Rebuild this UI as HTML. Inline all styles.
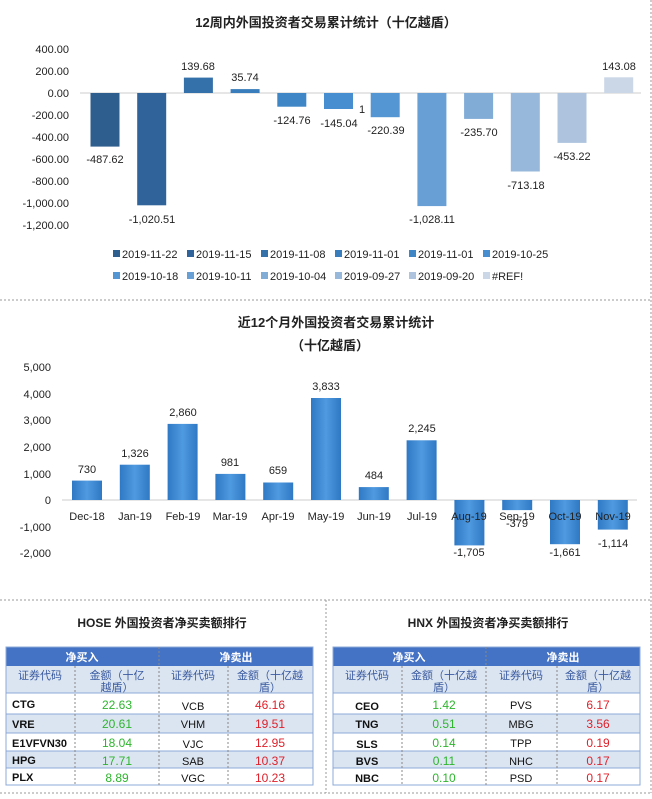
<!DOCTYPE html>
<html><head><meta charset="utf-8"><style>
body{margin:0;background:#fff;width:652px;height:794px;overflow:hidden;font-family:"Liberation Sans","Noto Sans CJK SC",sans-serif}
svg text{font-family:"Liberation Sans","Noto Sans CJK SC",sans-serif}
</style></head><body>
<svg width="652" height="794" viewBox="0 0 652 794" xmlns="http://www.w3.org/2000/svg">
<defs>
<linearGradient id="g2" x1="0" x2="1" y1="0" y2="0"><stop offset="0" stop-color="#2f78c4"/><stop offset="0.5" stop-color="#4f9ae0"/><stop offset="1" stop-color="#2f78c4"/></linearGradient>
</defs>
<!-- separators -->
<line x1="0" y1="300" x2="652" y2="300" stroke="#999" stroke-dasharray="2,2"/>
<line x1="651" y1="0" x2="651" y2="600" stroke="#999" stroke-dasharray="2,2"/>
<line x1="0" y1="600" x2="652" y2="600" stroke="#999" stroke-dasharray="2,2"/>
<line x1="0" y1="793" x2="652" y2="793" stroke="#999" stroke-dasharray="2,2"/>
<line x1="326" y1="600" x2="326" y2="793" stroke="#999" stroke-dasharray="2,2"/>
<line x1="651" y1="600" x2="651" y2="793" stroke="#999" stroke-dasharray="2,2"/>

<!-- Chart 1 -->
<text x="326" y="27" text-anchor="middle" font-size="13" font-weight="bold" fill="#222">12周内外国投资者交易累计统计（十亿越盾）</text>
<g font-size="11" fill="#222" text-anchor="end">
<text x="69" y="53">400.00</text><text x="69" y="75">200.00</text><text x="69" y="97">0.00</text>
<text x="69" y="119">-200.00</text><text x="69" y="141">-400.00</text><text x="69" y="163">-600.00</text>
<text x="69" y="185">-800.00</text><text x="69" y="207">-1,000.00</text><text x="69" y="229">-1,200.00</text>
</g>
<line x1="80" y1="93" x2="641" y2="93" stroke="#ccc"/>
<g>
<rect x="90.5" y="93" width="29" height="53.6" fill="#2e5e8e"/>
<rect x="137.2" y="93" width="29" height="112.3" fill="#2f6399"/>
<rect x="183.9" y="77.6" width="29" height="15.4" fill="#3470aa"/>
<rect x="230.6" y="89.1" width="29" height="3.9" fill="#3a7dbc"/>
<rect x="277.3" y="93" width="29" height="13.7" fill="#3f86c6"/>
<rect x="324" y="93" width="29" height="16" fill="#468ecf"/>
<rect x="370.7" y="93" width="29" height="24.2" fill="#5496d3"/>
<rect x="417.4" y="93" width="29" height="113.1" fill="#68a0d6"/>
<rect x="464.1" y="93" width="29" height="25.9" fill="#80acd6"/>
<rect x="510.8" y="93" width="29" height="78.5" fill="#97b8da"/>
<rect x="557.5" y="93" width="29" height="49.9" fill="#aec4de"/>
<rect x="604.2" y="77.3" width="29" height="15.7" fill="#cbd7e7"/>
</g>
<g font-size="11" fill="#222" text-anchor="middle">
<text x="105" y="163">-487.62</text><text x="152" y="223">-1,020.51</text>
<text x="198" y="70">139.68</text><text x="245" y="81">35.74</text>
<text x="292" y="124">-124.76</text><text x="339" y="127">-145.04</text>
<text x="362" y="113">1</text>
<text x="386" y="134">-220.39</text><text x="432" y="223">-1,028.11</text>
<text x="479" y="136">-235.70</text><text x="526" y="189">-713.18</text>
<text x="572" y="160">-453.22</text><text x="619" y="70">143.08</text>
</g>
<g font-size="11" fill="#222">
<rect x="113" y="250" width="7" height="7" fill="#2e5e8e"/><text x="122" y="258">2019-11-22</text>
<rect x="187" y="250" width="7" height="7" fill="#2f6399"/><text x="196" y="258">2019-11-15</text>
<rect x="261" y="250" width="7" height="7" fill="#3470aa"/><text x="270" y="258">2019-11-08</text>
<rect x="335" y="250" width="7" height="7" fill="#3a7dbc"/><text x="344" y="258">2019-11-01</text>
<rect x="409" y="250" width="7" height="7" fill="#3f86c6"/><text x="418" y="258">2019-11-01</text>
<rect x="483" y="250" width="7" height="7" fill="#468ecf"/><text x="492" y="258">2019-10-25</text>
<rect x="113" y="272" width="7" height="7" fill="#5496d3"/><text x="122" y="280">2019-10-18</text>
<rect x="187" y="272" width="7" height="7" fill="#68a0d6"/><text x="196" y="280">2019-10-11</text>
<rect x="261" y="272" width="7" height="7" fill="#80acd6"/><text x="270" y="280">2019-10-04</text>
<rect x="335" y="272" width="7" height="7" fill="#97b8da"/><text x="344" y="280">2019-09-27</text>
<rect x="409" y="272" width="7" height="7" fill="#aec4de"/><text x="418" y="280">2019-09-20</text>
<rect x="483" y="272" width="7" height="7" fill="#cbd7e7"/><text x="492" y="280">#REF!</text>
</g>

<!-- Chart 2 -->
<text x="336" y="327" text-anchor="middle" font-size="13" font-weight="bold" fill="#222">近12个月外国投资者交易累计统计</text>
<text x="330" y="350" text-anchor="middle" font-size="13" font-weight="bold" fill="#222">（十亿越盾）</text>
<g font-size="11" fill="#222" text-anchor="end">
<text x="51" y="371">5,000</text><text x="51" y="398">4,000</text><text x="51" y="424">3,000</text>
<text x="51" y="451">2,000</text><text x="51" y="478">1,000</text><text x="51" y="504">0</text>
<text x="51" y="531">-1,000</text><text x="51" y="557">-2,000</text>
</g>
<line x1="62" y1="500" x2="637" y2="500" stroke="#ccc"/>
<g fill="url(#g2)">
<rect x="72" y="480.6" width="30" height="19.4"/>
<rect x="119.8" y="464.7" width="30" height="35.3"/>
<rect x="167.6" y="423.9" width="30" height="76.1"/>
<rect x="215.4" y="473.9" width="30" height="26.1"/>
<rect x="263.2" y="482.5" width="30" height="17.5"/>
<rect x="311" y="398" width="30" height="102"/>
<rect x="358.8" y="487.1" width="30" height="12.9"/>
<rect x="406.6" y="440.3" width="30" height="59.7"/>
<rect x="454.4" y="500" width="30" height="45.4"/>
<rect x="502.2" y="500" width="30" height="10.1"/>
<rect x="550" y="500" width="30" height="44.2"/>
<rect x="597.8" y="500" width="30" height="29.6"/>
</g>
<g font-size="11" fill="#222" text-anchor="middle">
<text x="87" y="473">730</text><text x="135" y="457">1,326</text><text x="183" y="416">2,860</text>
<text x="230" y="466">981</text><text x="278" y="474">659</text><text x="326" y="390">3,833</text>
<text x="374" y="479">484</text><text x="422" y="432">2,245</text>
<text x="469" y="556">-1,705</text><text x="517" y="527">-379</text><text x="565" y="556">-1,661</text><text x="613" y="547">-1,114</text>
<text x="87" y="520">Dec-18</text><text x="135" y="520">Jan-19</text><text x="183" y="520">Feb-19</text>
<text x="230" y="520">Mar-19</text><text x="278" y="520">Apr-19</text><text x="326" y="520">May-19</text>
<text x="374" y="520">Jun-19</text><text x="422" y="520">Jul-19</text><text x="469" y="520">Aug-19</text>
<text x="517" y="520">Sep-19</text><text x="565" y="520">Oct-19</text><text x="613" y="520">Nov-19</text>
</g>

<!-- Tables -->
<text x="162" y="627" text-anchor="middle" font-size="12" font-weight="bold" fill="#222">HOSE 外国投资者净买卖额排行</text>
<text x="488" y="627" text-anchor="middle" font-size="12" font-weight="bold" fill="#222">HNX 外国投资者净买卖额排行</text>

<g id="t1">
<rect x="6" y="647" width="307" height="19" fill="#4472c4"/>
<rect x="6" y="666" width="307" height="27" fill="#dbe5f1"/>
<rect x="6" y="714" width="307" height="19" fill="#dbe5f1"/>
<rect x="6" y="751" width="307" height="17" fill="#dbe5f1"/>
<rect x="6" y="647" width="307" height="138" fill="none" stroke="#8ea9d8"/>
<g stroke="#8ea9d8"><line x1="6" y1="693" x2="313" y2="693"/><line x1="6" y1="714" x2="313" y2="714"/><line x1="6" y1="733" x2="313" y2="733"/><line x1="6" y1="751" x2="313" y2="751"/><line x1="6" y1="768" x2="313" y2="768"/></g>
<g stroke="#888" stroke-dasharray="2,2"><line x1="75" y1="666" x2="75" y2="785"/><line x1="159" y1="647" x2="159" y2="785"/><line x1="228" y1="666" x2="228" y2="785"/></g>
<g font-size="11" font-weight="bold" fill="#fff" text-anchor="middle"><text x="82" y="661">净买入</text><text x="236" y="661">净卖出</text></g>
<g font-size="11" fill="#3a5aa0" text-anchor="middle"><text x="40" y="679">证券代码</text><text x="117" y="679">金额（十亿</text><text x="117" y="691">越盾）</text><text x="193" y="679">证券代码</text><text x="270" y="679">金额（十亿越</text><text x="270" y="691">盾）</text></g>
<g font-size="11" font-weight="bold" fill="#111"><text x="12" y="708">CTG</text><text x="12" y="728">VRE</text><text x="12" y="747">E1VFVN30</text><text x="12" y="764">HPG</text><text x="12" y="781">PLX</text></g>
<g font-size="12" fill="#2db52d" text-anchor="middle"><text x="117" y="709">22.63</text><text x="117" y="728">20.61</text><text x="117" y="747">18.04</text><text x="117" y="765">17.71</text><text x="117" y="782">8.89</text></g>
<g font-size="11" fill="#111" text-anchor="middle"><text x="193" y="710">VCB</text><text x="193" y="728">VHM</text><text x="193" y="748">VJC</text><text x="193" y="765">SAB</text><text x="193" y="782">VGC</text></g>
<g font-size="12" fill="#e0202a" text-anchor="middle"><text x="270" y="709">46.16</text><text x="270" y="728">19.51</text><text x="270" y="747">12.95</text><text x="270" y="765">10.37</text><text x="270" y="782">10.23</text></g>
</g>

<g>
<rect x="333" y="647" width="307" height="19" fill="#4472c4"/>
<rect x="333" y="666" width="307" height="27" fill="#dbe5f1"/>
<rect x="333" y="714" width="307" height="19" fill="#dbe5f1"/>
<rect x="333" y="751" width="307" height="17" fill="#dbe5f1"/>
<rect x="333" y="647" width="307" height="138" fill="none" stroke="#8ea9d8"/>
<g stroke="#8ea9d8"><line x1="333" y1="693" x2="640" y2="693"/><line x1="333" y1="714" x2="640" y2="714"/><line x1="333" y1="733" x2="640" y2="733"/><line x1="333" y1="751" x2="640" y2="751"/><line x1="333" y1="768" x2="640" y2="768"/></g>
<g stroke="#888" stroke-dasharray="2,2"><line x1="402" y1="666" x2="402" y2="785"/><line x1="486" y1="647" x2="486" y2="785"/><line x1="557" y1="666" x2="557" y2="785"/></g>
<g font-size="11" font-weight="bold" fill="#fff" text-anchor="middle"><text x="409" y="661">净买入</text><text x="563" y="661">净卖出</text></g>
<g font-size="11" fill="#3a5aa0" text-anchor="middle"><text x="367" y="679">证券代码</text><text x="444" y="679">金额（十亿越</text><text x="444" y="691">盾）</text><text x="521" y="679">证券代码</text><text x="598" y="679">金额（十亿越</text><text x="598" y="691">盾）</text></g>
<g font-size="11" font-weight="bold" fill="#111" text-anchor="middle"><text x="367" y="710">CEO</text><text x="367" y="728">TNG</text><text x="367" y="748">SLS</text><text x="367" y="765">BVS</text><text x="367" y="782">NBC</text></g>
<g font-size="12" fill="#2db52d" text-anchor="middle"><text x="444" y="709">1.42</text><text x="444" y="728">0.51</text><text x="444" y="747">0.14</text><text x="444" y="765">0.11</text><text x="444" y="782">0.10</text></g>
<g font-size="11" fill="#111" text-anchor="middle"><text x="521" y="709">PVS</text><text x="521" y="728">MBG</text><text x="521" y="747">TPP</text><text x="521" y="765">NHC</text><text x="521" y="782">PSD</text></g>
<g font-size="12" fill="#e0202a" text-anchor="middle"><text x="598" y="709">6.17</text><text x="598" y="728">3.56</text><text x="598" y="747">0.19</text><text x="598" y="765">0.17</text><text x="598" y="782">0.17</text></g>
</g>
</svg>
</body></html>
